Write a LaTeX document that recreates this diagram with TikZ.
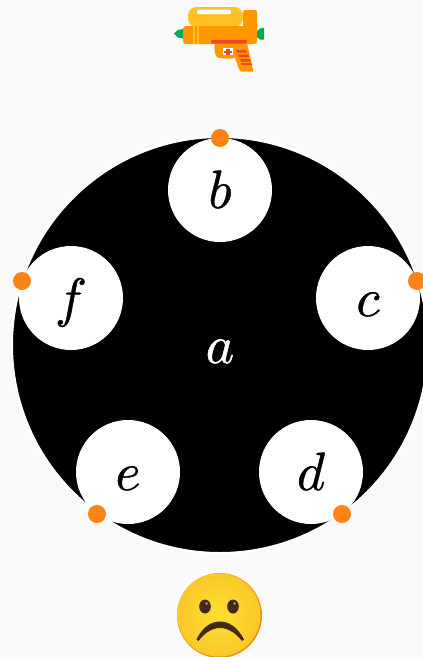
\documentclass[tikz,border=0pt]{standalone}
\usepackage{amsmath, amssymb}
\usepackage{tikz}
\definecolor{pagebg}{RGB}{250,250,250}
\definecolor{dotc}{RGB}{255,132,24}
\definecolor{gunbody}{RGB}{255,152,0}
\definecolor{guntank}{RGB}{255,193,37}
\definecolor{gunred}{RGB}{240,70,35}
\definecolor{gungreen}{RGB}{0,168,90}
\definecolor{facec}{RGB}{250,200,40}
\definecolor{facemid}{RGB}{255,224,50}
\definecolor{faceedge}{RGB}{236,150,15}
\definecolor{faceeye}{RGB}{66,42,20}
\newcommand{\biglabel}[1]{\raisebox{-18pt}[0pt][0pt]{\scalebox{5.4}{\special{pdf:code 2 Tr 0.08 w}$#1$\special{pdf:code 0 Tr 1 w}}}}
\tikzset{
	hole/.style={circle,fill=white,minimum size=104pt,inner sep=0pt},
	port/.style={circle,fill=dotc,minimum size=18pt,inner sep=0pt}
}

\begin{document}
\begin{tikzpicture}[x=1pt,y=-1pt]
	\useasboundingbox (0,0) rectangle (423,657);
	\fill[pagebg] (0,0) rectangle (423,657);
	% main disc
	\node[circle,fill=black,draw=white,line width=2pt,minimum size=416pt,inner sep=0pt,text=white] (a) at (220,345) {\biglabel{a}};
	% holes
	\node[hole] (b) at (220,190) {\biglabel{b}};
	\node[hole] (c) at (368,298) {\biglabel{c}};
	\node[hole] (d) at (311,472) {\biglabel{d}};
	\node[hole] (e) at (128,472) {\biglabel{e}};
	\node[hole] (f) at (71,298) {\biglabel{f}};
	% ports
	\node[port] (pb) at (220,138) {};
	\node[port] (pc) at (417,281) {};
	\node[port] (pd) at (342,514) {};
	\node[port] (pe) at (97,514) {};
	\node[port] (pf) at (22,281) {};
	% water gun
	\fill[gungreen] (174,33.5) -- (178,30) -- (183,29) -- (183,38.5) -- (178,37.5) -- cycle;
	\fill[gungreen] (256,32) -- (260,28.5) -- (264,28) -- (264,39.5) -- (260,39.5) -- (256,36) -- cycle;
	\fill[guntank,rounded corners=8.5pt] (188,7) rectangle (243,27);
	\fill[white,rounded corners=2pt] (197,9.5) rectangle (231,14.2);
	\fill[gunbody,rounded corners=2pt] (243,10) rectangle (257,30);
	\fill[gunbody,rounded corners=3pt] (183,26) rectangle (257,44);
	\fill[guntank] (193,26) rectangle (195,44);
	\fill[guntank] (197,26) rectangle (199,44);
	\fill[gunbody,rounded corners=1pt] (231,43) -- (247,43) -- (253.5,71.5) -- (240,71.5) -- (235,58) -- cycle;
	\fill[gunbody,rounded corners=4pt] (214,43) -- (215,56) -- (220,58.5) -- (236,58.5) -- (236,43) -- cycle;
	\fill[white] (223,48) rectangle (233,55);
	\fill[gunred] (226,49) rectangle (230,55);
	\fill[gunred] (224,51) rectangle (232,52.5);
	\fill[gunred,rounded corners=1pt] (211,40) rectangle (247,43.5);
	\fill[gunred] (236,50) -- (246,50) -- (247,52.5) -- (237,52.5) -- cycle;
	\fill[gunred] (238,54.5) -- (248,54.5) -- (249,57) -- (239,57) -- cycle;
	\fill[gunred] (240,59) -- (250,59) -- (251,61.5) -- (241,61.5) -- cycle;
	\fill[gunred] (241,63) -- (251,63) -- (252,65) -- (242,65) -- cycle;
	% sad face
	\fill[faceedge] (219.5,615.5) circle (42.5);
	\shade[inner color=facemid,outer color=facec] (218.9,614.9) circle (41.6);
	\fill[faceeye] (205,606.5) ellipse (5.8 and 7);
	\fill[faceeye] (233,606.5) ellipse (5.8 and 7);
	\fill[faceeye!50!white] (206.5,603.5) circle (1.3);
	\fill[faceeye!50!white] (234.5,603.5) circle (1.3);
	\fill[faceeye,line join=round] (196.5,639.5) .. controls (203,626) and (212,621.5) .. (220,621.5) .. controls (228,621.5) and (237,626) .. (244,639.5) -- (242,641) .. controls (235,632) and (227,628) .. (220,628) .. controls (213,628) and (205,632) .. (198.5,641) -- cycle;
\end{tikzpicture}
\end{document}
